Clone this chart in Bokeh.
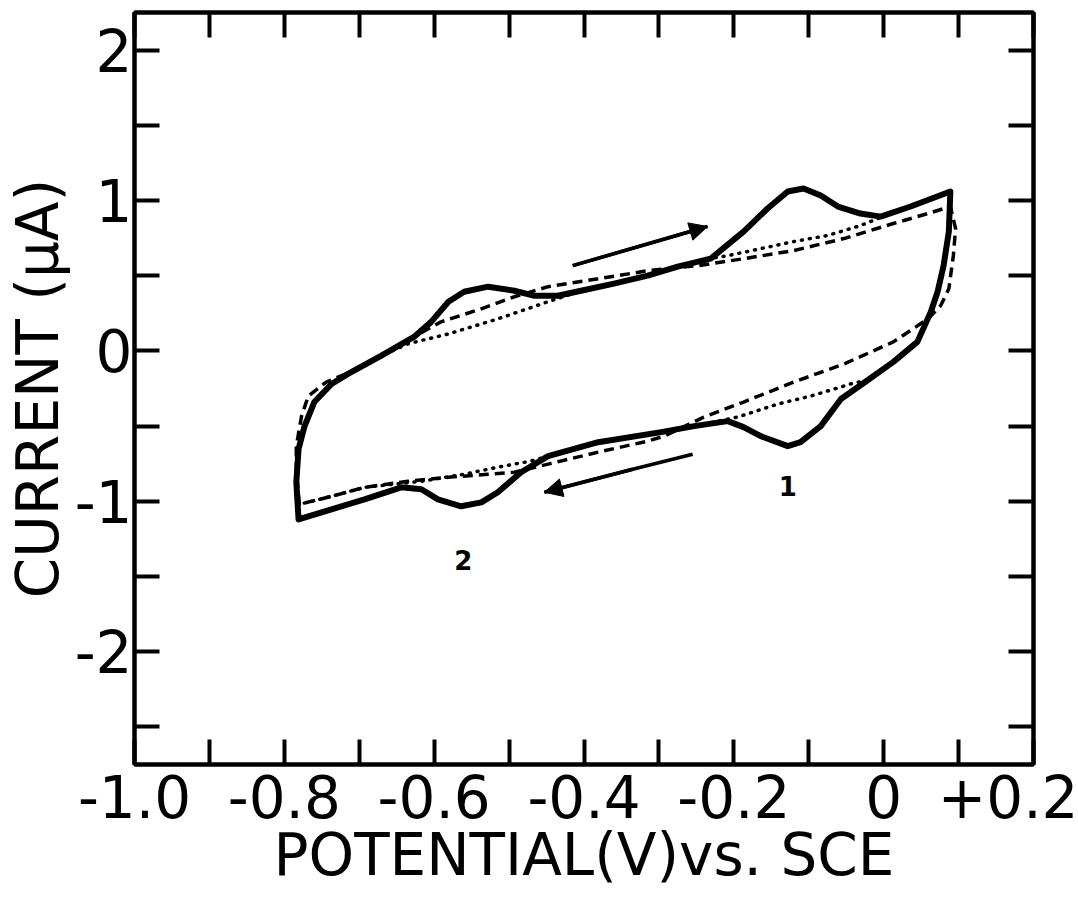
from math import pi
from bokeh.plotting import figure
from bokeh.models import (Range1d, FixedTicker, LinearAxis, Label, Arrow, NormalHead)
from bokeh.embed import file_html
from bokeh.resources import INLINE

# ---- data (potential V vs SCE, current uA) ----
solid_v = [-0.781, -0.784, -0.781, -0.773, -0.760, -0.737, -0.715, -0.671, -0.627, -0.604,
           -0.581, -0.560, -0.528, -0.493, -0.467, -0.435, -0.404, -0.360, -0.315, -0.275,
           -0.231, -0.187, -0.155, -0.128, -0.107, -0.084, -0.061, -0.031, -0.004, 0.036,
           0.089, 0.087, 0.080, 0.072, 0.063, 0.045, 0.013, -0.021, -0.057, -0.084,
           -0.111, -0.128, -0.164, -0.187, -0.208, -0.253, -0.297, -0.381, -0.448, -0.484,
           -0.515, -0.537, -0.564, -0.595, -0.617, -0.644, -0.693, -0.737, -0.781]
solid_i = [-1.12, -0.873, -0.653, -0.50, -0.34, -0.22, -0.153, -0.033, 0.093, 0.193,
           0.327, 0.393, 0.427, 0.40, 0.367, 0.367, 0.40, 0.447, 0.50, 0.56,
           0.613, 0.793, 0.947, 1.06, 1.08, 1.033, 0.96, 0.913, 0.893, 0.96,
           1.06, 0.793, 0.567, 0.393, 0.26, 0.06, -0.073, -0.193, -0.32, -0.50,
           -0.607, -0.633, -0.567, -0.507, -0.467, -0.50, -0.54, -0.607, -0.70, -0.807,
           -0.94, -1.007, -1.033, -0.987, -0.92, -0.907, -0.987, -1.053, -1.12]

dash_v = [-0.780, -0.784, -0.784, -0.777, -0.768, -0.744, -0.715, -0.671, -0.635, -0.591,
          -0.537, -0.493, -0.448, -0.381, -0.315, -0.248, -0.187, -0.120, -0.053, 0.013,
          0.059, 0.089, 0.096, 0.093, 0.087, 0.076, 0.059, 0.013, -0.053, -0.120,
          -0.187, -0.240, -0.293, -0.315, -0.381, -0.448, -0.493, -0.528, -0.581, -0.635,
          -0.693, -0.737, -0.780]
dash_i = [-1.02, -0.787, -0.633, -0.433, -0.30, -0.207, -0.147, -0.033, 0.073, 0.193,
          0.28, 0.36, 0.427, 0.48, 0.533, 0.567, 0.613, 0.667, 0.747, 0.847,
          0.913, 0.96, 0.813, 0.633, 0.413, 0.30, 0.213, 0.06, -0.087, -0.207,
          -0.34, -0.44, -0.567, -0.60, -0.673, -0.753, -0.807, -0.82, -0.84, -0.867,
          -0.907, -0.967, -1.02]

dot_v = [-0.780, -0.784, -0.781, -0.773, -0.760, -0.737, -0.715, -0.671, -0.635, -0.581,
         -0.515, -0.448, -0.404, -0.360, -0.315, -0.275, -0.225, -0.208, -0.164, -0.120,
         -0.075, -0.031, -0.008, 0.036, 0.089, 0.087, 0.080, 0.072, 0.063, 0.045,
         0.013, -0.021, -0.044, -0.097, -0.141, -0.195, -0.253, -0.297, -0.381, -0.448,
         -0.471, -0.515, -0.560, -0.617, -0.693, -0.737, -0.780]
dot_i = [-1.02, -0.873, -0.653, -0.50, -0.34, -0.22, -0.153, -0.033, 0.047, 0.113,
         0.213, 0.327, 0.40, 0.447, 0.50, 0.56, 0.62, 0.633, 0.68, 0.727,
         0.767, 0.833, 0.88, 0.96, 1.06, 0.793, 0.567, 0.393, 0.26, 0.06,
         -0.073, -0.193, -0.22, -0.30, -0.353, -0.44, -0.50, -0.54, -0.607, -0.70,
         -0.733, -0.773, -0.82, -0.867, -0.907, -0.967, -1.02]

# sweep-direction arrows (shaft points, V / uA)
arrow_up_v = [-0.415, -0.235]
arrow_up_i = [0.567, 0.827]
arrow_dn_v = [-0.255, -0.335, -0.453]
arrow_dn_i = [-0.687, -0.787, -0.94]

x_ticks = [-1.0, -0.9, -0.8, -0.7, -0.6, -0.5, -0.4, -0.3, -0.2, -0.1, 0.0, 0.1, 0.2]
x_labels = {-1.0: "-1.0", -0.9: "", -0.8: "-0.8", -0.7: "", -0.6: "-0.6", -0.5: "",
            -0.4: "-0.4", -0.3: "", -0.2: "-0.2", -0.1: "", 0.0: "0", 0.1: "", 0.2: "+0.2"}
y_ticks = [-2.5, -2.0, -1.5, -1.0, -0.5, 0.0, 0.5, 1.0, 1.5, 2.0]
y_labels = {-2.5: "", -2.0: "-2", -1.5: "", -1.0: "-1", -0.5: "", 0.0: "0",
            0.5: "", 1.0: "1", 1.5: "", 2.0: "2"}

FONT = "DejaVu Sans"

p = figure(width=1078, height=898, x_range=Range1d(-1.0, 0.2), y_range=Range1d(-2.75, 2.25),
           output_backend="svg", toolbar_location=None,
           min_border_left=133, min_border_right=45, min_border_top=12, min_border_bottom=134)
p.grid.visible = False
p.outline_line_color = "black"
p.outline_line_width = 4
p.background_fill_color = "white"
p.border_fill_color = "white"

def style_axis(ax, ticks, labels, show_labels):
    ax.ticker = FixedTicker(ticks=ticks)
    ax.major_tick_in = 25
    ax.major_tick_out = 0
    ax.major_tick_line_width = 4
    ax.major_tick_line_color = "black"
    ax.minor_tick_line_color = None
    ax.axis_line_width = 4
    ax.axis_line_color = "black"
    if show_labels:
        ax.major_label_overrides = labels
        ax.major_label_text_font = FONT
        ax.major_label_text_font_size = "58px"
        ax.major_label_text_color = "black"
        ax.axis_label_text_font = FONT
        ax.axis_label_text_font_size = "58px"
        ax.axis_label_text_font_style = "normal"
        ax.axis_label_text_color = "black"
        ax.axis_label_standoff = 0
    else:
        ax.major_label_text_font_size = "0px"
        ax.major_label_text_color = None
        ax.major_label_standoff = 0

style_axis(p.xaxis[0], x_ticks, x_labels, True)
style_axis(p.yaxis[0], y_ticks, y_labels, True)
p.xaxis[0].major_label_standoff = 10
p.yaxis[0].major_label_standoff = 2
p.xaxis[0].axis_label = "POTENTIAL(V)vs. SCE"
p.yaxis[0].axis_label = "CURRENT (µA)"

top = LinearAxis()
style_axis(top, x_ticks, x_labels, False)
p.add_layout(top, "above")
right = LinearAxis()
style_axis(right, y_ticks, y_labels, False)
p.add_layout(right, "right")

# curves
p.line(dot_v, dot_i, line_color="black", line_width=3.5, line_dash="1 7", line_cap="round")
p.line(dash_v, dash_i, line_color="black", line_width=3.5, line_dash="10 6")
p.line(solid_v, solid_i, line_color="black", line_width=6, line_join="round", line_cap="round")

# arrows
p.line(arrow_up_v, arrow_up_i, line_color="black", line_width=3.5)
p.add_layout(Arrow(end=NormalHead(size=18, fill_color="black", line_color="black"),
                   x_start=arrow_up_v[0], y_start=arrow_up_i[0],
                   x_end=arrow_up_v[1], y_end=arrow_up_i[1], line_width=3.5))
p.line(arrow_dn_v, arrow_dn_i, line_color="black", line_width=3.5)
p.add_layout(Arrow(end=NormalHead(size=18, fill_color="black", line_color="black"),
                   x_start=arrow_dn_v[1], y_start=arrow_dn_i[1],
                   x_end=arrow_dn_v[2], y_end=arrow_dn_i[2], line_width=3.5))

# peak labels
p.add_layout(Label(x=-0.128, y=-0.90, text="1", text_font=FONT, text_font_size="26px",
                   text_font_style="bold", text_color="black", text_align="center",
                   text_baseline="middle"))
p.add_layout(Label(x=-0.561, y=-1.387, text="2", text_font=FONT, text_font_size="26px",
                   text_font_style="bold", text_color="black", text_align="center",
                   text_baseline="middle"))

open("out.html", "w").write(file_html(p, INLINE))
